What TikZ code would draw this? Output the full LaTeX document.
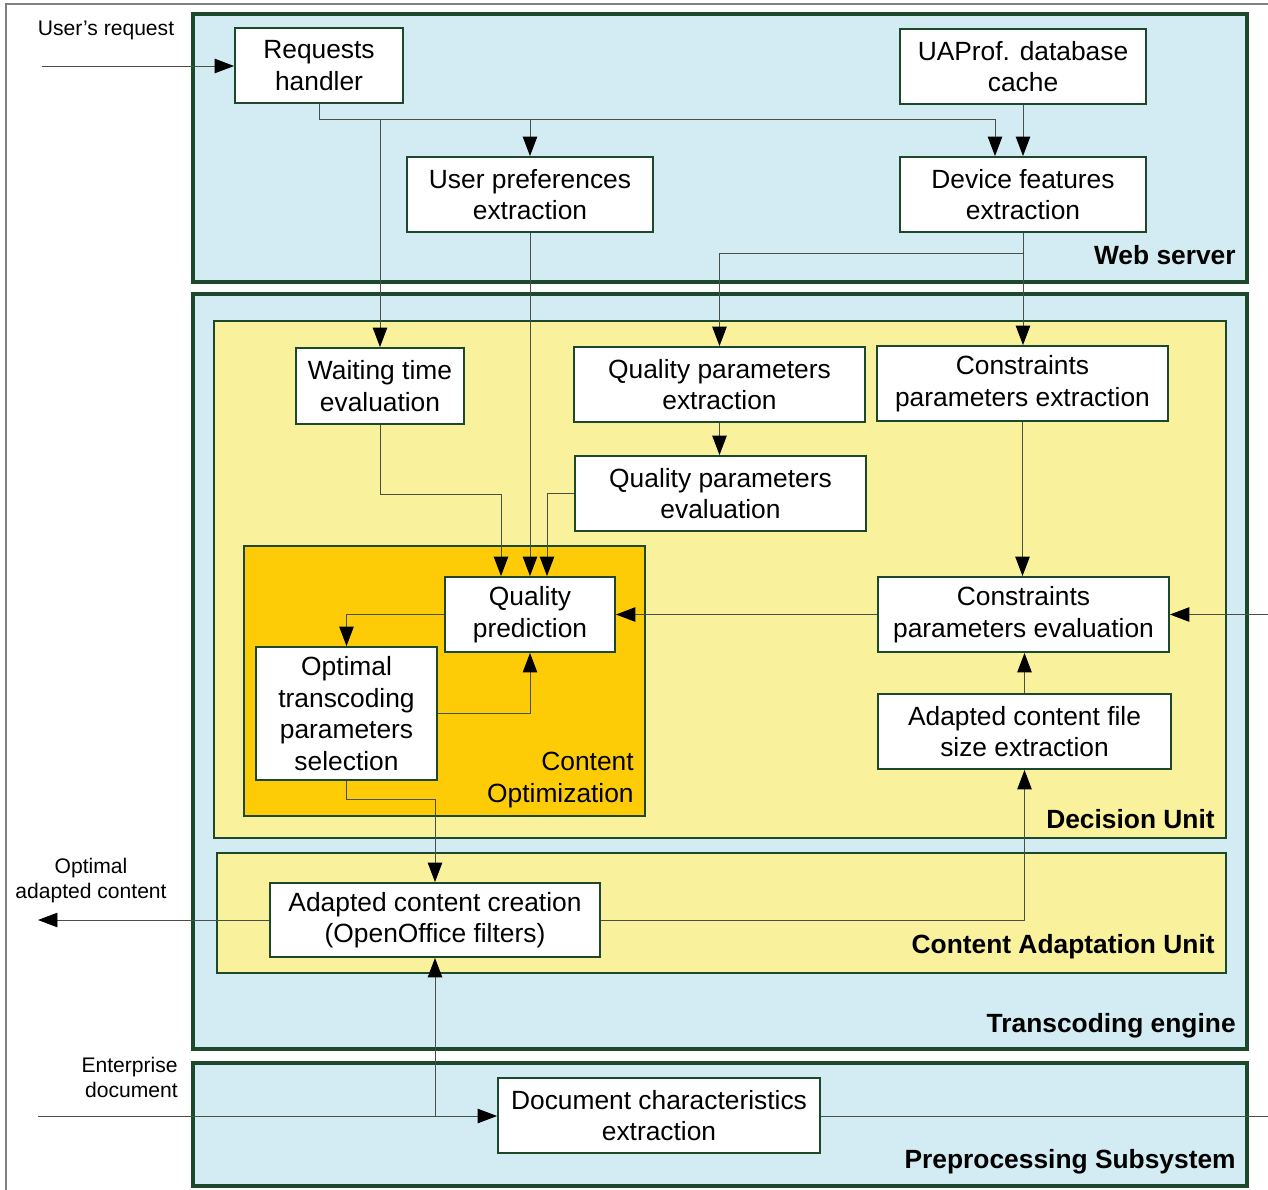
\documentclass[tikz,border=0pt]{standalone}
\usepackage{fontspec}
\setmainfont{Liberation Sans}
\usetikzlibrary{arrows.meta}
\definecolor{webblue}{RGB}{211,235,242}
\definecolor{unityellow}{RGB}{249,241,155}
\definecolor{optorange}{RGB}{253,204,7}
\definecolor{edgegreen}{RGB}{28,72,44}
\definecolor{wiregray}{RGB}{70,80,70}

\begin{document}
\begin{tikzpicture}[x=0.02cm, y=-0.02cm,
  block/.style={draw=edgegreen, line width=1.1pt, fill=white, align=center,
    inner sep=0pt, minimum width=5.82cm, minimum height=1.5cm,
    font=\fontsize{15}{18}\selectfont},
  system/.style={draw=edgegreen, line width=1.8pt, fill=webblue},
  unit/.style={draw=edgegreen, line width=1.1pt, fill=unityellow},
  optim/.style={draw=edgegreen, line width=1.1pt, fill=optorange},
  tag/.style={anchor=east, inner sep=0pt, font=\fontsize{15}{18}\selectfont\bfseries},
  outside/.style={align=center, inner sep=0pt, font=\fontsize{12}{14.2}\selectfont},
  wire/.style={draw=wiregray, line width=0.55pt},
  flow/.style={wire, -{Triangle[length=0.39cm, width=0.29cm, color=black]}}]
\useasboundingbox (0,0) rectangle (1268,1190);
\draw[gray, line width=1pt] (6,1190) -- (6,4) -- (1268,4);

% subsystems
\draw[system] (193,14) rectangle (1247,282);
\draw[system] (193,294) rectangle (1247,1049);
\draw[system] (193,1063) rectangle (1247,1186);
\draw[unit] (214,321) rectangle (1226,838);
\draw[unit] (217,853) rectangle (1226,973);
\draw[optim] (244,546) rectangle (645,816);

\node[tag] (websrv) at (1236,255) {Web server};
\node[tag] (decunit) at (1215,819) {Decision Unit};
\node[tag] (adaptunit) at (1215,947) {Content Adaptation Unit};
\node[tag] (engine) at (1236,1026) {Transcoding engine};
\node[tag] (prep) at (1236,1162) {Preprocessing Subsystem};
\node[tag, align=right, font=\fontsize{15}{18}\selectfont] (optlbl) at (634,780) {Content\\Optimization};

% blocks
\node[block, minimum width=3.36cm] (rh) at (319,65.5) {Requests\\handler};
\node[block, minimum width=4.92cm] (uap) at (1023,66.5) {UAProf. database\\cache};
\node[block, minimum width=4.92cm] (upe) at (530,194.5) {User preferences\\extraction};
\node[block, minimum width=4.92cm] (dfe) at (1023,194.5) {Device features\\extraction};
\node[block, minimum width=3.36cm, minimum height=1.52cm] (wte) at (380,386) {Waiting time\\evaluation};
\node[block] (qpx) at (719.5,384.5) {Quality parameters\\extraction};
\node[block] (cpx) at (1022.5,383.5) {Constraints\\parameters extraction};
\node[block] (qpe) at (720.5,493.5) {Quality parameters\\evaluation};
\node[block, minimum width=3.4cm] (qpred) at (530,614.5) {Quality\\prediction};
\node[block, minimum width=3.62cm, minimum height=2.66cm] (otps) at (346.5,713.5) {Optimal\\transcoding\\parameters\\selection};
\node[block] (cpe) at (1023.5,614.5) {Constraints\\parameters evaluation};
\node[block, minimum width=5.86cm] (acfs) at (1024.5,731.5) {Adapted content file\\size extraction};
\node[block, minimum width=6.6cm, minimum height=1.48cm] (acc) at (435,920) {Adapted content creation\\(OpenOffice filters)};
\node[block, minimum width=6.44cm] (dce) at (659,1115.5) {Document characteristics\\extraction};

% outside texts
\node[outside] (ureq) at (106,30) {User’s request};
\node[outside] (optout) at (91,881) {Optimal\\adapted content};
\node[outside, anchor=east, align=right] (entdoc) at (178,1077) {Enterprise\\document};

\coordinate (reqin) at (42,66);
\coordinate (bus) at (995,119);
\coordinate (cpein) at (1268,614.5);
\coordinate (resout) at (38,920);
\coordinate (docin) at (38,1116);
\coordinate (docout) at (1268,1116);

% web server
\draw[flow] (reqin) -- (rh.west |- reqin);
\draw[flow] (rh.south) |- (bus) -- (bus |- dfe.north);
\draw[flow] (upe.north |- bus) -- (upe.north);
\draw[flow] (wte.north |- bus) -- (wte.north);
\draw[flow] (uap.south) -- (dfe.north);
\draw[flow] (dfe.south) -- (dfe.south |- cpx.north);
\draw[flow] (dfe.south) ++(0,21) -| (qpx.north);
\draw[flow] (upe.south) -- (qpred.north);

% decision unit
\draw[flow] (wte.south) -- ++(0,70) -| ([xshift=-0.58cm]qpred.north);
\draw[flow] (qpx.south) -- (qpx.south |- qpe.north);
\draw[flow] (qpe.west) -| ([xshift=0.34cm]qpred.north);
\draw[flow] (cpx.south) -- (cpx.south |- cpe.north);
\draw[flow] (cpe.west) -- (qpred.east);
\draw[flow] (cpein) -- (cpe.east);
\draw[flow] (acfs.north) -- (acfs.north |- cpe.south);
\draw[flow] (qpred.west) -| (otps.north);
\draw[flow] (otps.east) -| (qpred.south);
\draw[flow] (otps.south) -- ++(0,19) -| (acc.north);

% content adaptation
\draw[flow] (acc.west) -- (resout);
\draw[flow] (acc.east) -| (acfs.south);
\draw[flow] (docin) -- (dce.west |- docin);
\draw[flow] (acc.south |- docin) -- (acc.south);
\draw[wire] (dce.east |- docout) -- (docout);
\end{tikzpicture}
\end{document}
